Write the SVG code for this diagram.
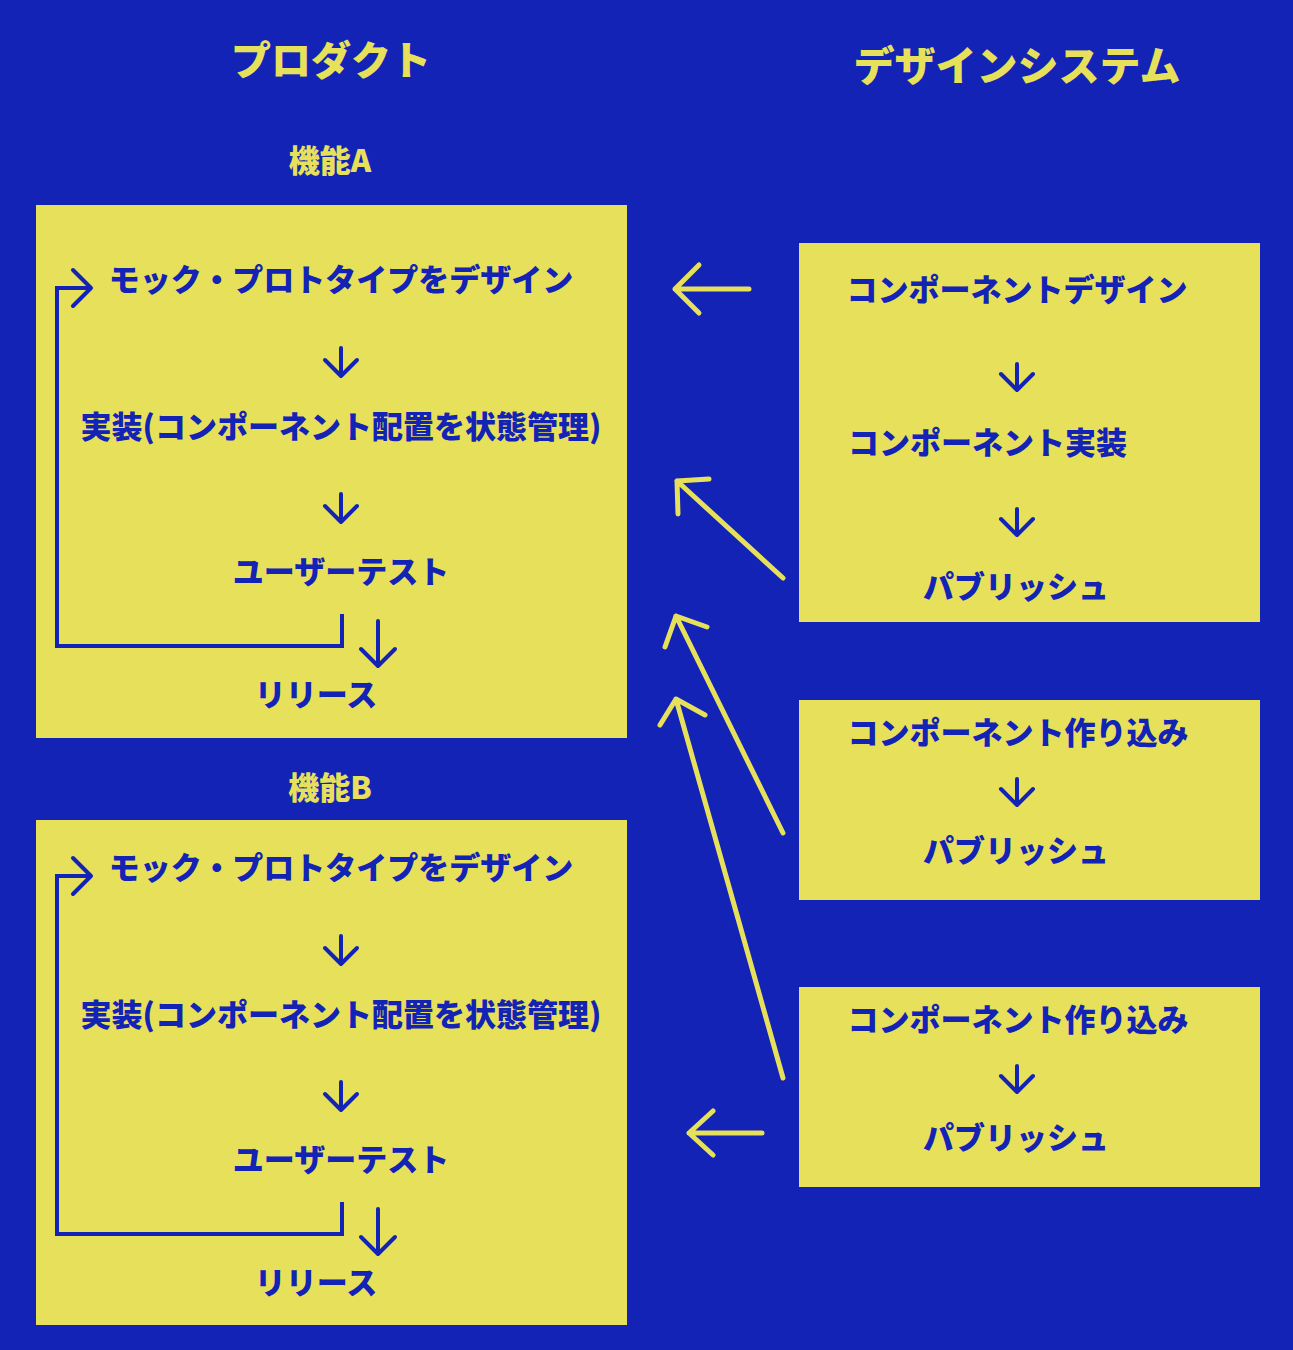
<svg xmlns="http://www.w3.org/2000/svg" width="1293" height="1350" viewBox="0 0 1293 1350">
<style>
.t{font-family:"Noto Sans CJK JP","Noto Sans",sans-serif;font-weight:900;fill:#1223b5;font-size:31px;text-anchor:middle}
.h{font-family:"Noto Sans CJK JP","Noto Sans",sans-serif;font-weight:900;fill:#e7e05b;text-anchor:middle}
.box{fill:#e7e05b}
.b{fill:none;stroke:#1223b5;stroke-width:4;stroke-linecap:round;stroke-linejoin:round}
.loop{fill:none;stroke:#1223b5;stroke-width:4;stroke-linejoin:miter}
.y{fill:none;stroke:#e7e05b;stroke-width:5;stroke-linecap:round;stroke-linejoin:round}
</style>
<rect width="1293" height="1350" fill="#1223b5"/>

<g id="titles">
<text class="h" x="331" y="75" font-size="40">プロダクト</text>
<text class="h" x="1017" y="81" font-size="41">デザインシステム</text>
</g>

<g id="featureA">
<text class="h" x="330" y="172" font-size="31">機能A</text>
<rect class="box" x="36" y="205" width="591" height="533"/>
<text class="t" x="341" y="291">モック・プロトタイプをデザイン</text>
<text class="t" x="341" y="438">実装(コンポーネント配置を状態管理)</text>
<text class="t" x="341" y="583">ユーザーテスト</text>
<text class="t" x="316" y="706">リリース</text>
</g>

<g id="featureB">
<text class="h" x="330" y="799" font-size="31">機能B</text>
<rect class="box" x="36" y="820" width="591" height="505"/>
<text class="t" x="341" y="879">モック・プロトタイプをデザイン</text>
<text class="t" x="341" y="1026">実装(コンポーネント配置を状態管理)</text>
<text class="t" x="341" y="1171">ユーザーテスト</text>
<text class="t" x="316" y="1294">リリース</text>
</g>

<g id="ds1">
<rect class="box" x="799" y="243" width="461" height="379"/>
<text class="t" x="1017" y="301">コンポーネントデザイン</text>
<text class="t" x="848" y="454" style="text-anchor:start">コンポーネント実装</text>
<text class="t" x="1016" y="598">パブリッシュ</text>
</g>

<g id="ds2">
<rect class="box" x="799" y="700" width="461" height="200"/>
<text class="t" x="1018" y="744">コンポーネント作り込み</text>
<text class="t" x="1016" y="862">パブリッシュ</text>
</g>

<g id="ds3">
<rect class="box" x="799" y="987" width="461" height="200"/>
<text class="t" x="1018" y="1031">コンポーネント作り込み</text>
<text class="t" x="1016" y="1149">パブリッシュ</text>
</g>

<g id="connectors">
<!-- feature A -->
<path class="b" d="M341 348V376M325 360L341 376L357 360"/>
<path class="b" d="M341 494V522M325 506L341 522L357 506"/>
<path class="b" d="M378 621V666M361 649L378 666L395 649"/>
<path class="loop" d="M342 614V646H57V288H90"/>
<path class="b" d="M73 270L91 288L73 306"/>
<!-- feature B -->
<path class="b" d="M341 936V964M325 948L341 964L357 948"/>
<path class="b" d="M341 1082V1110M325 1094L341 1110L357 1094"/>
<path class="b" d="M378 1209V1254M361 1237L378 1254L395 1237"/>
<path class="loop" d="M342 1202V1234H57V876H90"/>
<path class="b" d="M73 858L91 876L73 894"/>
<!-- design system -->
<path class="b" d="M1017 364V390M1001 374L1017 390L1033 374"/>
<path class="b" d="M1017 509V535M1001 519L1017 535L1033 519"/>
<path class="b" d="M1017 779V805M1001 789L1017 805L1033 789"/>
<path class="b" d="M1017 1066V1092M1001 1076L1017 1092L1033 1076"/>
<!-- yellow arrows -->
<path class="y" d="M749 289H675M699 265L675 289L699 313"/>
<path class="y" d="M783 578L677 481M709 479L677 481L678 514"/>
<path class="y" d="M783 833L676 616M707 627L676 616L665 647"/>
<path class="y" d="M783 1078L676 699M705 715L676 699L660 725"/>
<path class="y" d="M762 1133H689M713 1111L689 1133L713 1155"/>
</g>
</svg>
